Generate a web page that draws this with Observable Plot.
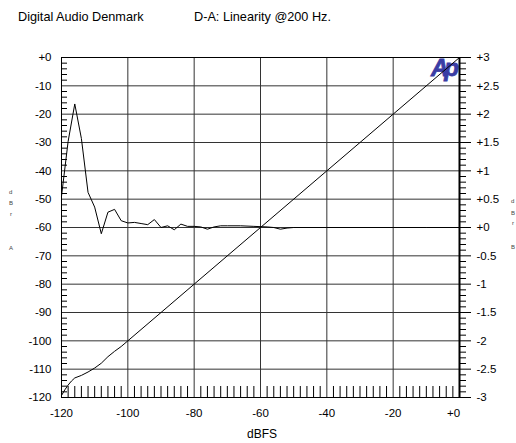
<!DOCTYPE html>
<html><head><meta charset="utf-8">
<script src="https://cdn.jsdelivr.net/npm/d3@7"></script>
<script src="https://cdn.jsdelivr.net/npm/@observablehq/plot@0.6"></script>
<style>
body{margin:0;background:#fff;font-family:"Liberation Sans",Arial,sans-serif;}
#wrap{position:relative;width:516px;height:443px;overflow:hidden;background:#fff}
#wrap svg{position:absolute;left:0;top:0}
.t{position:absolute;font-size:12.7px;color:#000;white-space:nowrap;line-height:1}
.s{position:absolute;font-size:6px;color:#444;line-height:1}
.logo{position:absolute;left:431px;top:56px;font-family:"Liberation Sans",Arial,sans-serif;font-size:24px;line-height:24px;font-weight:bold;font-style:italic;color:#3a3da4;letter-spacing:-4px;-webkit-text-stroke:0.8px #3a3da4}
</style></head>
<body><div id="wrap">
<div class="logo">Ap</div>
<div class="t" style="left:18px;top:11px">Digital Audio Denmark</div>
<div class="t" style="left:194px;top:11px">D-A: Linearity @200 Hz.</div>
<div class="t" style="left:247px;top:428px;font-size:12px">dBFS</div>
<div class="s" style="left:9px;top:189px">d</div>
<div class="s" style="left:9px;top:200px">B</div>
<div class="s" style="left:10px;top:211px">r</div>
<div class="s" style="left:9px;top:245px">A</div>
<div class="s" style="left:511px;top:198px">d</div>
<div class="s" style="left:511px;top:210px">B</div>
<div class="s" style="left:512px;top:220px">r</div>
<div class="s" style="left:511px;top:244px">B</div>
</div>
<script>
// Tick values
const xTicks = [-120, -100, -80, -60, -40, -20, 0];
const leftTicks = [0, -10, -20, -30, -40, -50, -60, -70, -80, -90, -100, -110, -120];
const rightTicks = [3, 2.5, 2, 1.5, 1, 0.5, 0, -0.5, -1, -1.5, -2, -2.5, -3];
const xMinor = d3.range(-118, 0, 2).filter(v => v % 20 !== 0);
const leftMinor = d3.range(-118, 0, 2).filter(v => v % 10 !== 0);
const rightMinor = d3.range(-30, 31, 1).filter(v => v % 5 !== 0).map(v => v / 10);

// Linearity (output dBr A vs input dBFS)
const linX = [-120, -119, -118, -117, -116, -114, -112, -110, -108, -106, -104, -102, -100, -90, -80, -60, -40, -20, 0];
const linY = [-119.3, -117.3, -115.6, -114.2, -113.1, -112.2, -111.0, -109.6, -107.9, -105.6, -103.7, -102.0, -100.0, -90, -80, -60, -40, -20, 0];

// Deviation (dBr B vs input dBFS)
const devX = [-120, -118, -116, -114, -112, -110, -108, -106, -104, -102, -100, -98, -96, -94, -92, -90, -88, -86, -84, -82, -80, -78, -76, -74, -72, -70, -66, -62, -58, -56, -54, -52, -50, -40, -30, -20, -10, 0];
const devY = [0.55, 1.52, 2.18, 1.57, 0.62, 0.36, -0.11, 0.27, 0.32, 0.12, 0.08, 0.09, 0.07, 0.05, 0.14, 0.0, 0.03, -0.04, 0.06, 0.02, 0.02, 0.01, -0.03, 0.01, 0.03, 0.03, 0.03, 0.02, 0.01, 0.0, -0.03, -0.01, 0.0, 0.0, 0.0, 0.0, 0.0, 0.0];

const lin = linX.map((x, i) => ({x, y: linY[i]}));
const dev = devX.map((x, i) => ({x, y: devY[i]}));

const W = 516, H = 443;
const M = {marginLeft: 61, marginRight: 57, marginTop: 57, marginBottom: 46};
const style = {fontFamily: "Liberation Sans, Arial, sans-serif", fontSize: "11.5px", background: "transparent", color: "#000", overflow: "visible"};
const fw = W - M.marginLeft - M.marginRight;
const fh = H - M.marginTop - M.marginBottom;
const fmtX = d => d === 0 ? "+0" : String(d);

const p1 = Plot.plot({
  width: W, height: H, ...M, style,
  x: {domain: [-120, 0]},
  y: {domain: [-120, 0]},
  marks: [
    Plot.ruleY(leftTicks, {stroke: "#333"}),
    Plot.ruleX(xTicks, {stroke: "#333"}),
    Plot.tickY(leftMinor, {y: d => d, insetRight: fw - 6, stroke: "#000"}),
    Plot.tickX(xMinor, {x: d => d, insetTop: fh - 11, stroke: "#000"}),
    Plot.axisY({anchor: "left", ticks: leftTicks, tickSize: 0, tickPadding: 10, label: null,
      tickFormat: d => d === 0 ? "+0" : String(d)}),
    Plot.axisX({anchor: "bottom", ticks: xTicks.filter(d => d !== 0), tickSize: 0, tickPadding: 11, label: null, tickFormat: fmtX}),
    Plot.axisX({anchor: "bottom", ticks: [0], tickSize: 0, tickPadding: 11, label: null, tickFormat: fmtX, dx: -6}),
    Plot.line(lin, {x: "x", y: "y", stroke: "#000", strokeWidth: 1}),
    Plot.frame({stroke: "#000"})
  ]
});

const p2 = Plot.plot({
  width: W, height: H, ...M, style,
  x: {domain: [-120, 0], axis: null},
  y: {domain: [-3, 3]},
  marks: [
    Plot.axisY({anchor: "right", ticks: rightMinor, tickSize: 6, tickFormat: () => "", label: null}),
    Plot.axisY({anchor: "right", ticks: rightTicks, tickSize: 11, tickPadding: 6, label: null,
      tickFormat: d => d >= 0 ? "+" + d : String(d)}),
    Plot.ruleX([0], {stroke: "#000", strokeWidth: 2}),
    Plot.line(dev, {x: "x", y: "y", stroke: "#000", strokeWidth: 1})
  ]
});

const wrap = document.getElementById("wrap");
wrap.appendChild(p1);
wrap.appendChild(p2);
</script>
</body></html>
